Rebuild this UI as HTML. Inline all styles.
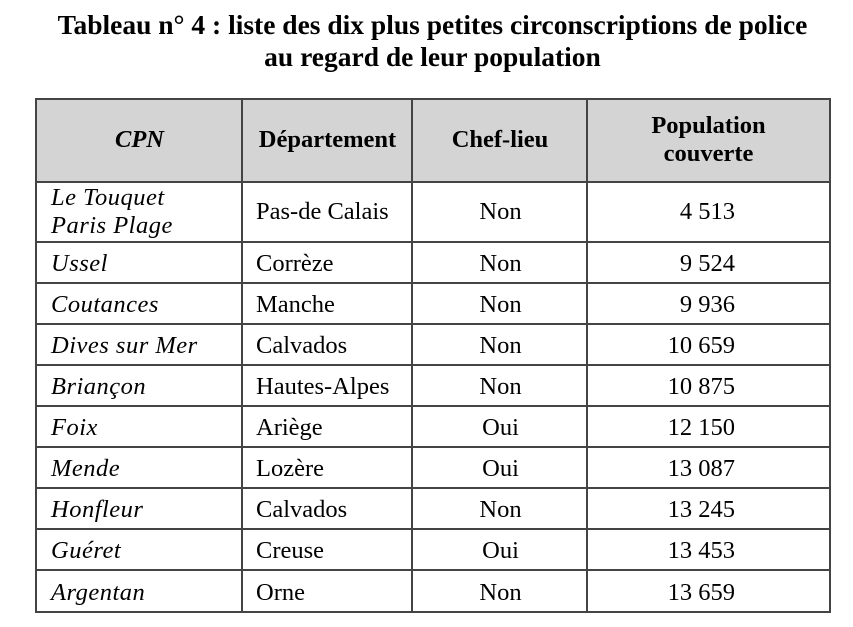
<!DOCTYPE html>
<html><head><meta charset="utf-8"><style>
body{margin:0;width:853px;height:627px;background:#fff;font-family:"Liberation Serif","Times New Roman",serif;color:#000;position:relative;overflow:hidden}
div{position:absolute;font-family:"Liberation Serif","Times New Roman",serif}
.t{left:6px;width:853px;text-align:center;font-weight:bold;font-size:27.5px;line-height:32px}
.h{background:#d4d4d4;left:36px;top:99px;width:793px;height:83px}
.hl{background:#444;height:2px;left:35px;width:796px}
.vl{background:#444;width:2px;top:98px;height:515px}
.x{font-size:24.5px;line-height:28px;white-space:nowrap}
.c{left:51px;font-style:italic;letter-spacing:0.5px}
.d{left:256px}
.o{left:414px;width:173px;text-align:center}
.n{left:560px;width:175px;text-align:right}
.b{font-weight:bold;text-align:center}
</style></head><body>
<div class="t" style="top:9px">Tableau n° 4 : liste des dix plus petites circonscriptions de police</div>
<div class="t" style="top:41px">au regard de leur population</div>
<div class="h"></div>
<div class="hl" style="top:98px"></div>
<div class="hl" style="top:181px"></div>
<div class="hl" style="top:241px"></div>
<div class="hl" style="top:282px"></div>
<div class="hl" style="top:323px"></div>
<div class="hl" style="top:364px"></div>
<div class="hl" style="top:405px"></div>
<div class="hl" style="top:446px"></div>
<div class="hl" style="top:487px"></div>
<div class="hl" style="top:528px"></div>
<div class="hl" style="top:569px"></div>
<div class="hl" style="top:611px"></div>
<div class="vl" style="left:35px"></div>
<div class="vl" style="left:241px"></div>
<div class="vl" style="left:411px"></div>
<div class="vl" style="left:586px"></div>
<div class="vl" style="left:829px"></div>

<div class="x b" style="left:37px;width:205px;top:126px;font-style:italic">CPN</div>
<div class="x b" style="left:243px;width:169px;top:126px">Département</div>
<div class="x b" style="left:413px;width:174px;top:126px">Chef-lieu</div>
<div class="x b" style="left:588px;width:241px;top:112px">Population<br>couverte</div>

<div class="x c" style="top:184px">Le Touquet<br>Paris Plage</div>
<div class="x d" style="top:198px">Pas-de Calais</div><div class="x o" style="top:198px">Non</div><div class="x n" style="top:198px">4 513</div>
<div class="x c" style="top:250px">Ussel</div><div class="x d" style="top:250px">Corrèze</div><div class="x o" style="top:250px">Non</div><div class="x n" style="top:250px">9 524</div>
<div class="x c" style="top:291px">Coutances</div><div class="x d" style="top:291px">Manche</div><div class="x o" style="top:291px">Non</div><div class="x n" style="top:291px">9 936</div>
<div class="x c" style="top:332px">Dives sur Mer</div><div class="x d" style="top:332px">Calvados</div><div class="x o" style="top:332px">Non</div><div class="x n" style="top:332px">10 659</div>
<div class="x c" style="top:373px">Briançon</div><div class="x d" style="top:373px">Hautes-Alpes</div><div class="x o" style="top:373px">Non</div><div class="x n" style="top:373px">10 875</div>
<div class="x c" style="top:414px">Foix</div><div class="x d" style="top:414px">Ariège</div><div class="x o" style="top:414px">Oui</div><div class="x n" style="top:414px">12 150</div>
<div class="x c" style="top:455px">Mende</div><div class="x d" style="top:455px">Lozère</div><div class="x o" style="top:455px">Oui</div><div class="x n" style="top:455px">13 087</div>
<div class="x c" style="top:496px">Honfleur</div><div class="x d" style="top:496px">Calvados</div><div class="x o" style="top:496px">Non</div><div class="x n" style="top:496px">13 245</div>
<div class="x c" style="top:537px">Guéret</div><div class="x d" style="top:537px">Creuse</div><div class="x o" style="top:537px">Oui</div><div class="x n" style="top:537px">13 453</div>
<div class="x c" style="top:579px">Argentan</div><div class="x d" style="top:579px">Orne</div><div class="x o" style="top:579px">Non</div><div class="x n" style="top:579px">13 659</div>
</body></html>
